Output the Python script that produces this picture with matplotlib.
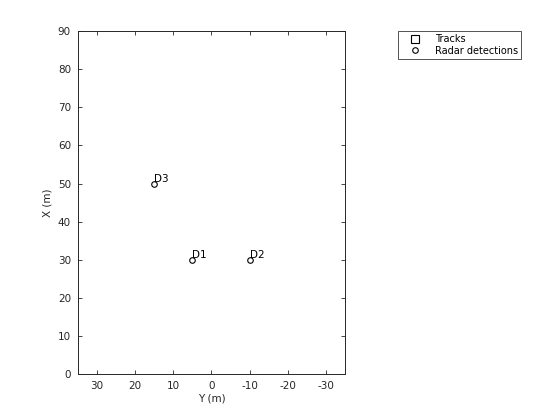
import matplotlib

matplotlib.use("Agg")
import matplotlib.pyplot as plt
from matplotlib.lines import Line2D

# detections: Y (lateral, m) and X (longitudinal, m)
det_names = ["D1", "D2", "D3"]
det_y = [5, -10, 15]
det_x = [30, 30, 50]

x_ticks = [0, 10, 20, 30, 40, 50, 60, 70, 80, 90]
y_ticks = [30, 20, 10, 0, -10, -20, -30]

plt.rcParams["font.family"] = "DejaVu Sans"
plt.rcParams["font.size"] = 7.5
plt.rcParams["axes.unicode_minus"] = False
ink = "#262626"

fig = plt.figure(figsize=(5.6, 4.2), dpi=100)
ax = fig.add_axes([0.139, 0.109, 0.477, 0.817])

ax.plot(det_y, det_x, linestyle="none", marker="o", markersize=4,
        markerfacecolor="none", markeredgecolor="black", markeredgewidth=0.8)
for name, yy, xx in zip(det_names, det_y, det_x):
    ax.annotate(name, (yy, xx), xytext=(0, 0), textcoords="offset points",
                ha="left", va="bottom", fontsize=7.5, color="black")

ax.set_xlim(35, -35)
ax.set_ylim(0, 90)
ax.set_xticks(y_ticks)
ax.set_yticks(x_ticks)
ax.set_xlabel("Y (m)", color=ink, labelpad=2)
ax.set_ylabel("X (m)", color=ink, labelpad=4)
ax.tick_params(direction="in", top=True, right=True, length=3, width=0.6,
               colors=ink, labelcolor=ink, pad=5)
for s in ax.spines.values():
    s.set_linewidth(0.7)
    s.set_color(ink)

handles = [
    Line2D([], [], linestyle="none", marker="s", markersize=6,
           markerfacecolor="none", markeredgecolor="black", markeredgewidth=0.8),
    Line2D([], [], linestyle="none", marker="o", markersize=4,
           markerfacecolor="none", markeredgecolor="black", markeredgewidth=0.8),
]
leg = fig.legend(handles, ["Tracks", "Radar detections"], loc="upper left",
                 bbox_to_anchor=(398 / 560, 1 - 31 / 420), fontsize=7,
                 frameon=True, fancybox=False, borderpad=0.3, labelspacing=0.2,
                 handletextpad=0.6, handlelength=2.9, borderaxespad=0)
leg.get_frame().set_edgecolor(ink)
leg.get_frame().set_linewidth(0.7)

fig.savefig("out.png", dpi=100)
